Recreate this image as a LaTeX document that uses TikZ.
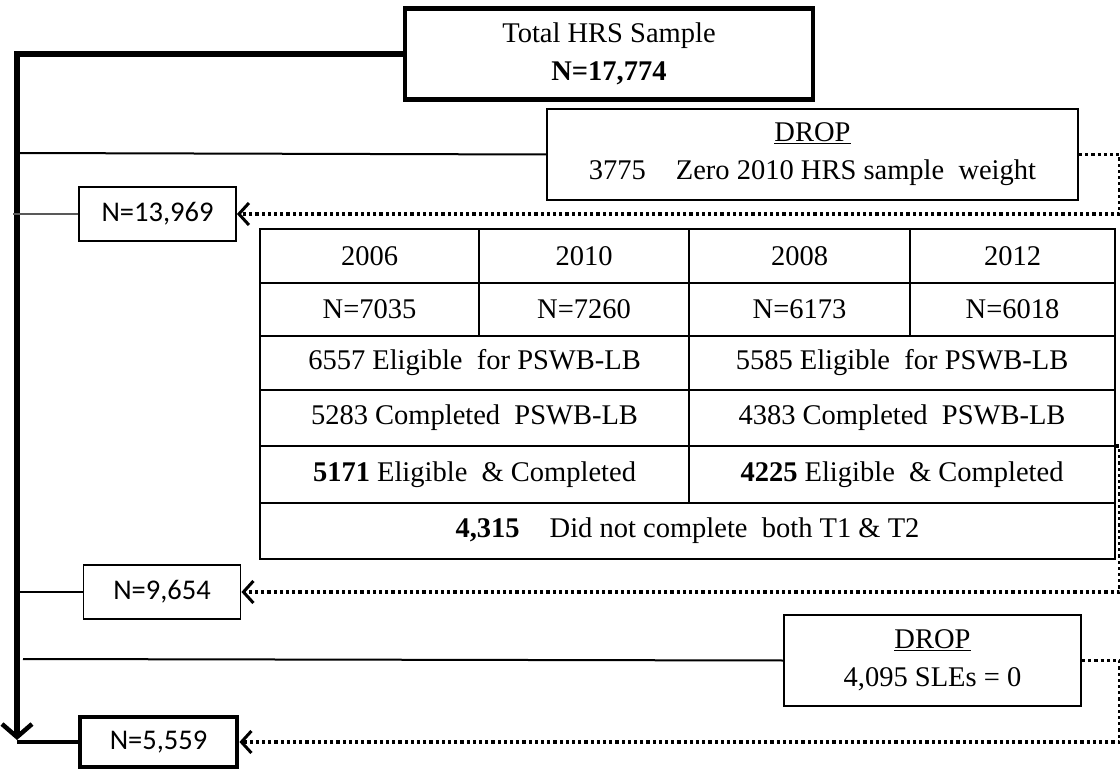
\documentclass[tikz,border=0pt]{standalone}
\usepackage{fontspec}
\setmainfont{Liberation Serif}
\newfontfamily\calib{Carlito}
\usetikzlibrary{arrows.meta}

\begin{document}
\begin{tikzpicture}[x=1pt,y=-1pt,
  box/.style={draw, line width=2pt, inner sep=0pt, align=center, font=\fontsize{28.5}{38}\selectfont},
  nbox/.style={draw, line width=1.8pt, inner sep=0pt, minimum width=157pt, minimum height=54pt, font=\calib\fontsize{28.5}{32}\selectfont},
  cell/.style={font=\fontsize{28.5}{32}\selectfont},
  dots/.style={line width=3.2pt, dash pattern=on 3.2pt off 3pt},
  open/.style={-{Straight Barb[length=10pt,width=22pt,line width=3pt]}}]
\useasboundingbox (0,0) rectangle (1120,770) ;

% boxes
\node[box, line width=4.8pt, minimum width=408pt, minimum height=91pt] (total) at (609,54) {Total HRS Sample\\\textbf{N=17,774}} ;
\node[box, minimum width=531pt, minimum height=91pt] (drop1) at (812.5,154.5) {\underline{DROP}\\3775\hspace{30pt}Zero 2010 HRS sample\ \ weight} ;
\node[nbox] (n13969) at (157.5,214) {N=13,969} ;
\node[nbox] (n9654) at (162,592) {N=9,654} ;
\node[box, minimum width=297pt, minimum height=91pt] (drop2) at (932.5,660.5) {\underline{DROP}\\4,095 SLEs = 0} ;
\node[nbox, line width=4.8pt, minimum height=50pt] (n5559) at (158.5,742) {N=5,559} ;

% table
\node[draw, line width=2.4pt, inner sep=0pt, minimum width=855pt, minimum height=330pt] (tbl) at (687.5,394) {} ;
\foreach \y in {283,336,390,446,503} {\draw[line width=2.4pt] (260,\y) -- (1115,\y) ;}
\draw[line width=2.2pt] (479,229) -- (479,336) ;
\draw[line width=2.2pt] (910,229) -- (910,336) ;
\draw[line width=2.2pt] (689,229) -- (689,503) ;
\foreach \x/\yr/\nn [count=\i] in {369.5/2006/7035, 584/2010/7260, 799.5/2008/6173, 1012.5/2012/6018} {
  \node[cell] (yr\i) at (\x,256) {\yr} ;
  \node[cell] (nn\i) at (\x,309.5) {N=\nn} ;
}
\node[cell] (elig1) at (474.5,363) {6557 Eligible\ \ for\ PSWB-LB} ;
\node[cell] (elig2) at (902,363) {5585 Eligible\ \ for\ PSWB-LB} ;
\node[cell] (comp1) at (474.5,418) {5283 Completed\ \ PSWB-LB} ;
\node[cell] (comp2) at (902,418) {4383 Completed\ \ PSWB-LB} ;
\node[cell] (both1) at (474.5,474.5) {\textbf{5171} Eligible\ \ \& Completed} ;
\node[cell] (both2) at (902,474.5) {\textbf{4225} Eligible\ \ \& Completed} ;
\node[cell] (notb) at (687.5,531) {\textbf{4,315}\hspace{30pt}Did not complete\ \ both T1 \& T2} ;

% main line
\coordinate (down) at (17,740) ;
\coordinate (foot) at (17,742) ;
\draw[line width=5.5pt, -{Straight Barb[length=13pt,width=30pt,line width=4.5pt]}] (total.west) -| (down) ;
\draw[line width=3.5pt] (foot) -- (n5559.west) ;

% side lines
\draw[line width=2pt] (17,153) -- (drop1.west) ;
\draw[line width=2pt, black!65] (13,214) -- (n13969.west) ;
\draw[line width=2pt] (17,592) -- (n9654.west) ;
\draw[line width=2pt] (23,659) -- (drop2.west) ;

% dotted returns
\draw[dots, open] (drop1.east) -- (1119.5,154.5) -- (1119.5,214) -- (n13969.east) ;
\draw[dots, open] (tbl.east |- 0,446) -- (1119.5,446) -- (1119.5,592) -- (n9654.east) ;
\draw[dots, open] (drop2.east) -- (1119.5,660.5) -- (1119.5,742) -- (n5559.east) ;
\end{tikzpicture}
\end{document}
